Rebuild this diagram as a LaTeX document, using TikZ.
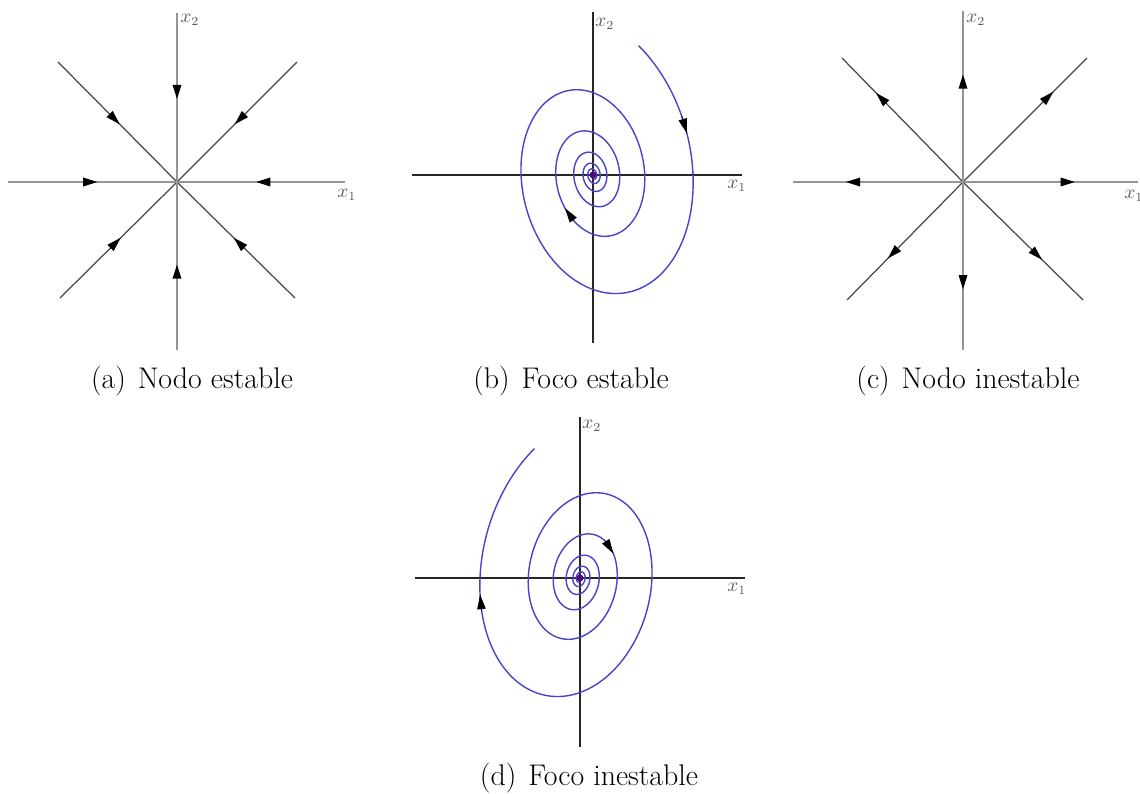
\documentclass[tikz,border=0pt]{standalone}
\usetikzlibrary{arrows.meta,decorations.markings}
\definecolor{spiralblue}{RGB}{72,68,200}
\definecolor{dotpurple}{RGB}{80,10,120}
\definecolor{axgray}{gray}{0.58}
\definecolor{diaggray}{gray}{0.28}
\definecolor{labgray}{gray}{0.35}
\tikzset{
  x=0.02cm, y=-0.02cm,
  axlight/.style={draw=axgray, line width=1.1pt},
  diag/.style={draw=diaggray, line width=0.7pt},
  axdark/.style={draw=black!85, line width=0.85pt},
  spiral/.style={draw=spiralblue, line width=0.8pt},
  arrowtip/.style={black, line width=0.4pt, -{Triangle[length=8.2pt,width=4.8pt]}},
  markat/.style={postaction={decorate, decoration={markings, mark=at position #1 with {\arrow[black]{Triangle[length=8.2pt,width=4.8pt]}}}}},
  lab/.style={text=labgray, font=\fontsize{10.5}{12}\selectfont, inner sep=0pt, anchor=west},
  captxt/.style={font=\fontsize{17}{20}\selectfont, anchor=base, inner sep=0pt},
  declare function={
    rr(\t)=exp(-0.001825*\t);
    bx(\t)=593+rr(\t)*(100*cos(\t)+16*sin(\t));
    by(\t)=175+139*rr(\t)*sin(\t);
    dx(\t)=580-rr(\t)*(100*cos(\t)+16*sin(\t));
    dy(\t)=578+139*rr(\t)*sin(\t);
  }
}
\begin{document}
\begin{tikzpicture}
\useasboundingbox (0,0) rectangle (1140,794);
% ---------- (a) Nodo estable ----------
\coordinate (aO) at (177,182);
\coordinate (aT) at (177,13);
\coordinate (aB) at (177,350);
\coordinate (aL) at (8,182);
\coordinate (aR) at (345,182);
\coordinate (aUL) at (58,62);
\coordinate (aUR) at (297,62);
\coordinate (aLL) at (60,298);
\coordinate (aLR) at (295,298);
\path[diag, markat=0.52] (aUL) -- (aO);
\path[diag, markat=0.52] (aUR) -- (aO);
\path[diag, markat=0.52] (aLL) -- (aO);
\path[diag, markat=0.52] (aLR) -- (aO);
\path[axlight, markat=0.51] (aT) -- (aO);
\path[axlight, markat=0.51] (aB) -- (aO);
\path[axlight, markat=0.53] (aL) -- (aO);
\path[axlight, markat=0.53] (aR) -- (aO);
\node[lab] (ax1) at (337,195) {$x_1$};
\node[lab] (ax2) at (180,20) {$x_2$};
\node[captxt] (acap) at (192,388) {(a)\hspace{0.4em}Nodo estable};
% ---------- (b) Foco estable ----------
\coordinate (bO) at (593,175);
\draw[axdark] (412,175) coordinate (bL) -- (742,175) coordinate (bR);
\draw[axdark] (593,12) coordinate (bT) -- (593,343) coordinate (bB);
\draw[spiral] plot[domain=-57:1900, samples=900] ({bx(\x)},{by(\x)});
\coordinate (bA1s) at ({bx(-24)},{by(-24)});
\coordinate (bA1e) at ({bx(-17)},{by(-17)});
\coordinate (bA2s) at ({bx(487)},{by(487)});
\coordinate (bA2e) at ({bx(503)},{by(503)});
\draw[arrowtip] (bA1s) -- (bA1e);
\draw[arrowtip] (bA2s) -- (bA2e);
\fill[dotpurple] (bO) circle (3.5);
\node[lab] (bx1) at (727,186) {$x_1$};
\node[lab] (bx2) at (595,24) {$x_2$};
\node[captxt] (bcap) at (571,388) {(b)\hspace{0.4em}Foco estable};
% ---------- (c) Nodo inestable ----------
\coordinate (cO) at (963,182);
\coordinate (cT) at (963,11);
\coordinate (cB) at (963,350);
\coordinate (cL) at (793,182);
\coordinate (cR) at (1138,182);
\coordinate (cUL) at (842,58);
\coordinate (cUR) at (1087,58);
\coordinate (cLL) at (847,300);
\coordinate (cLR) at (1083,300);
\path[diag, markat=0.72] (cO) -- (cUL);
\path[diag, markat=0.73] (cO) -- (cUR);
\path[diag, markat=0.65] (cO) -- (cLL);
\path[diag, markat=0.66] (cO) -- (cLR);
\path[axlight, markat=0.63] (cO) -- (cT);
\path[axlight, markat=0.64] (cO) -- (cB);
\path[axlight, markat=0.69] (cO) -- (cL);
\path[axlight, markat=0.64] (cO) -- (cR);
\node[lab] (cx1) at (1124,196) {$x_1$};
\node[lab] (cx2) at (966,20) {$x_2$};
\node[captxt] (ccap) at (968,388) {(c)\hspace{0.4em}Nodo inestable};
% ---------- (d) Foco inestable ----------
\coordinate (dO) at (580,578);
\draw[axdark] (415,578) coordinate (dL) -- (745,578) coordinate (dR);
\draw[axdark] (580,417) coordinate (dT) -- (580,747) coordinate (dB);
\draw[spiral] plot[domain=-57:1900, samples=900] ({dx(\x)},{dy(\x)});
\coordinate (dA1s) at ({dx(14)},{dy(14)});
\coordinate (dA1e) at ({dx(7)},{dy(7)});
\coordinate (dA2s) at ({dx(589)},{dy(589)});
\coordinate (dA2e) at ({dx(570)},{dy(570)});
\draw[arrowtip] (dA1s) -- (dA1e);
\draw[arrowtip] (dA2s) -- (dA2e);
\fill[dotpurple] (dO) circle (3.5);
\node[lab] (dx1) at (727,589) {$x_1$};
\node[lab] (dx2) at (582,426) {$x_2$};
\node[captxt] (dcap) at (589,785) {(d)\hspace{0.4em}Foco inestable};
\end{tikzpicture}
\end{document}
